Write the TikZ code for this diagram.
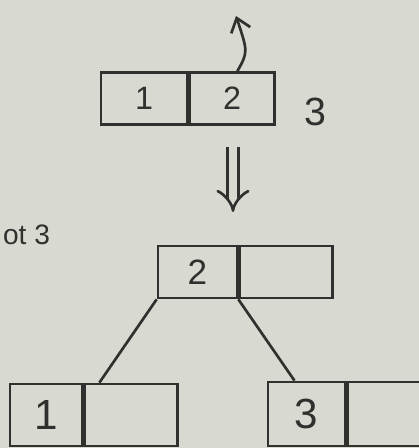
\documentclass[tikz,border=0pt]{standalone}
\usepackage{fontspec}
\setmainfont{Liberation Sans}
\usetikzlibrary{positioning,arrows.meta}
\definecolor{paper}{RGB}{216,218,209}
\definecolor{ink}{RGB}{48,48,46}

\begin{document}
\begin{tikzpicture}[x=0.025cm, y=-0.025cm, color=ink, line width=1.9pt,
    cell/.style = {draw, rectangle, minimum height=1.3cm, inner sep=0pt, font=\fontsize{23}{25}\selectfont},
    >={Straight Barb[length=3.2mm, width=5mm]}]
    \clip (0,0) rectangle (419,448);
    \fill[paper] (0,0) rectangle (419,448);

    % full leaf before the split
    \node[cell, minimum width=2.15cm] (t1) at (144,98.5) {1};
    \node[cell, minimum width=2.125cm] (t2) [right=0pt of t1] {2};
    \node[font=\fontsize{28}{30}\selectfont] (k3) at (315,112) {3};
    \coordinate (up) at (236,16);
    \draw[->] ([xshift=0.13cm]t2.north) .. controls (248,52) .. (up);

    \node[font=\fontsize{20}{22}\selectfont, anchor=west] (ins) at (-3,235) {ot 3};

    % split step
    \coordinate (s1) at (233,147);
    \coordinate (s2) at (233,212);
    \draw[double=paper, double distance=2.2mm, -{Implies[scale=2.2]}] (s1) -- (s2);

    % new root and its two leaves
    \node[cell, minimum width=1.975cm, font=\fontsize{25}{27}\selectfont] (m1) at (197.5,272) {2};
    \node[cell, minimum width=2.325cm] (m2) [right=0pt of m1] {};
    \node[cell, minimum width=1.8cm, minimum height=1.55cm, font=\fontsize{30}{32}\selectfont] (b1) at (46,415) {1};
    \node[cell, minimum width=2.325cm, minimum height=1.55cm] (b2) [right=0pt of b1] {};
    \node[cell, minimum width=1.925cm, minimum height=1.6cm, font=\fontsize{30}{32}\selectfont] (c1) at (306.5,414) {3};
    \node[cell, minimum width=2cm, minimum height=1.6cm] (c2) [right=0pt of c1] {};
    \draw (m1.south west) -- ([xshift=0.4cm]b2.north west);
    \draw (m1.south east) -- ([xshift=-0.3cm]c1.north);
\end{tikzpicture}
\end{document}
